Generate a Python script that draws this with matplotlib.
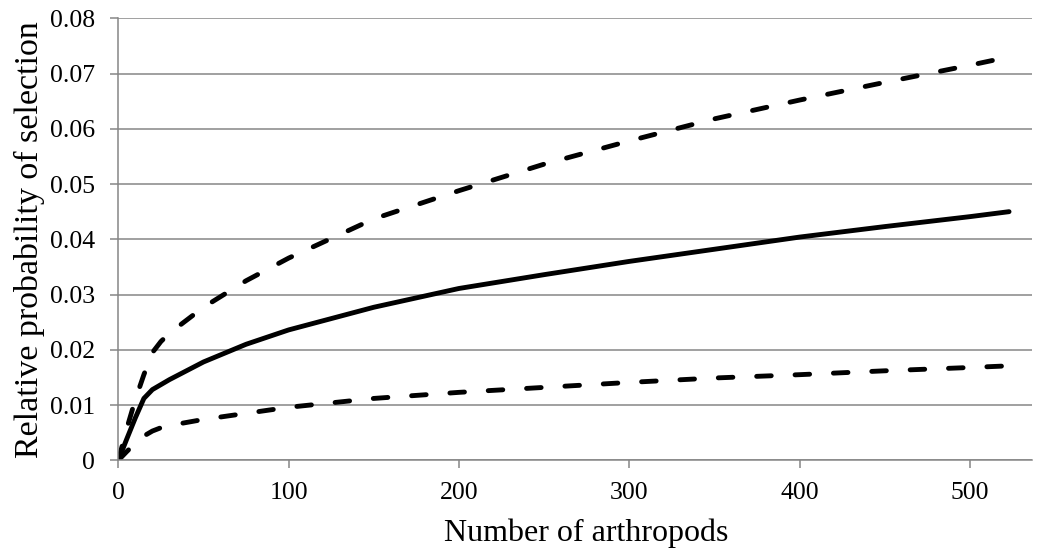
import matplotlib
matplotlib.use("Agg")
import matplotlib.pyplot as plt

plt.rcParams['font.family'] = ['Liberation Serif', 'DejaVu Serif']

# values
n_arthropods = [0, 5, 10, 15, 20, 25, 30, 50, 75, 100, 150, 200, 250, 300, 350, 400, 450, 500, 523]
prob_mean = [0, 0.0039, 0.0077, 0.0112, 0.0128, 0.0137, 0.0146, 0.0178, 0.0210, 0.0236, 0.0277,
             0.0311, 0.0336, 0.0360, 0.0382, 0.0404, 0.0423, 0.0441, 0.0450]
prob_upper = [0, 0.0058, 0.0110, 0.0155, 0.0195, 0.0215, 0.0230, 0.0277, 0.0325, 0.0366, 0.0437,
              0.0488, 0.0536, 0.0578, 0.0618, 0.0652, 0.0684, 0.0715, 0.0730]
prob_lower = [0, 0.0016, 0.0031, 0.0044, 0.0053, 0.0059, 0.0063, 0.0074, 0.0085, 0.0096, 0.0112,
              0.0123, 0.0132, 0.0141, 0.0149, 0.0155, 0.0162, 0.0168, 0.0171]

x_ticks = [0, 100, 200, 300, 400, 500]
y_ticks = [0, 0.01, 0.02, 0.03, 0.04, 0.05, 0.06, 0.07, 0.08]
y_tick_labels = ['0', '0.01', '0.02', '0.03', '0.04', '0.05', '0.06', '0.07', '0.08']

grey = '#868686'

fig = plt.figure(figsize=(10.5, 5.54), dpi=100)
ax = fig.add_axes([0.1127, 0.1691, 0.8702, 0.7979])

dash = (0, (3.0, 4.9))
ax.plot(n_arthropods, prob_upper, color='black', lw=3.5, linestyle=dash, dash_capstyle='round')
ax.plot(n_arthropods, prob_lower, color='black', lw=3.5, linestyle=dash, dash_capstyle='round')
ax.plot(n_arthropods, prob_mean, color='black', lw=3.5, solid_capstyle='round', solid_joinstyle='round')

ax.set_xlim(0, 536.5)
ax.set_ylim(0, 0.08)
ax.set_xticks(x_ticks)
ax.set_yticks(y_ticks)
ax.set_yticklabels(y_tick_labels)

ax.yaxis.grid(True, color=grey, lw=1.1)
ax.set_axisbelow(True)
for side in ['top', 'right']:
    ax.spines[side].set_visible(False)
for side in ['left', 'bottom']:
    ax.spines[side].set_color(grey)
    ax.spines[side].set_linewidth(1.1)

ax.tick_params(axis='both', direction='out', length=6, width=1.1, color=grey,
               labelsize=18.5, labelcolor='black')
ax.tick_params(axis='x', pad=9.5)
ax.tick_params(axis='y', pad=11)

ax.set_xlabel('Number of arthropods', fontsize=23)
ax.xaxis.set_label_coords(0.512, -0.131)
ax.xaxis.label.set_verticalalignment('top')
ax.set_ylabel('Relative probability of selection', fontsize=24.5, labelpad=3)

fig.savefig('out.png', dpi=100)
